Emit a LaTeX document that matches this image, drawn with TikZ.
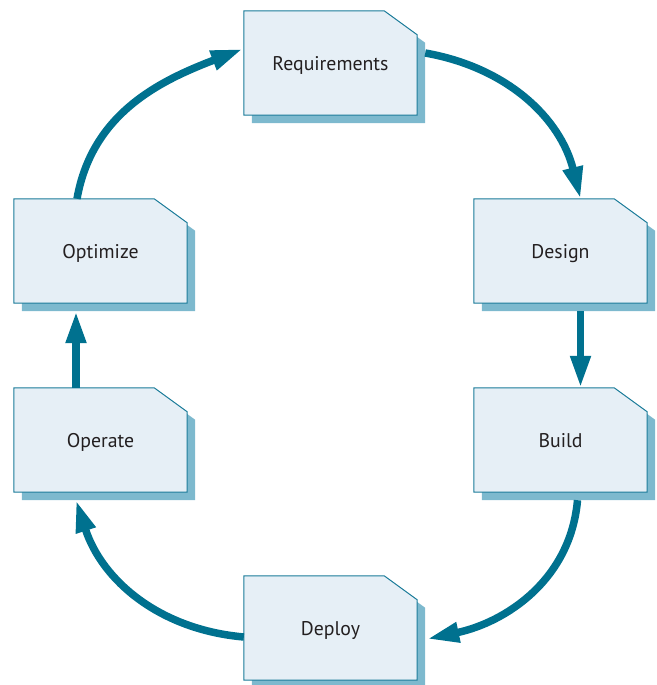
\documentclass[tikz,border=0pt]{standalone}
\usepackage{fontspec}
\setmainfont{PT Sans}
\usetikzlibrary{arrows.meta,backgrounds}
\definecolor{arrowc}{RGB}{0,113,143}
\definecolor{boxfill}{RGB}{230,239,246}
\definecolor{boxline}{RGB}{26,123,153}
\definecolor{shadowc}{RGB}{125,185,206}
\definecolor{textc}{RGB}{35,31,32}
\begin{document}
\begin{tikzpicture}[x=1pt,y=1pt,
  docbox/.style={minimum width=173pt,minimum height=104pt,inner sep=0pt,
    font=\fontsize{19.8}{22}\selectfont,text=textc,text height=16pt,text depth=0pt},
  flow/.style={draw=arrowc,line width=7.5pt,-{Triangle[length=32pt,width=19pt]}}]
\useasboundingbox (0,0) rectangle (656,685);
\node[docbox] (req) at (330.5,622) {Requirements};
\node[docbox] (des) at (560.5,434) {Design};
\node[docbox] (bld) at (560.5,245) {Build};
\node[docbox] (dep) at (330.5,57) {Deploy};
\node[docbox] (opr) at (100.5,245) {Operate};
\node[docbox] (opt) at (100.5,434) {Optimize};
\begin{scope}[on background layer]
\foreach \n in {req,des,bld,dep,opr,opt}{
  \fill[shadowc] ([shift={(8pt,-8pt)}]\n.north west) -- ([shift={(-25pt,-8pt)}]\n.north east)
     -- ([shift={(8pt,-32pt)}]\n.north east) -- ([shift={(8pt,-8pt)}]\n.south east)
     -- ([shift={(8pt,-8pt)}]\n.south west) -- cycle;
  \filldraw[fill=boxfill,draw=boxline,line width=1pt] (\n.north west) -- ([xshift=-33pt]\n.north east)
     -- ([yshift=-24pt]\n.north east) -- (\n.south east) -- (\n.south west) -- cycle;
}
\end{scope}
\draw[flow] ([xshift=8pt,yshift=10pt]req.east) to[out=-10,in=104] ([xshift=20pt]des.north);
\draw[flow] ([xshift=20pt,yshift=-8pt]des.south) -- ([xshift=20pt]bld.north);
\draw[flow] ([xshift=17pt,yshift=-8pt]bld.south) to[out=-95,in=12] ([xshift=10pt,yshift=-11pt]dep.east);
\draw[flow] ([yshift=-9pt]dep.west) to[out=175,in=-72] ([xshift=-24.5pt,yshift=-8pt]opr.south);
\draw[flow] ([xshift=-24.5pt]opr.north) -- ([xshift=-24.5pt,yshift=-8pt]opt.south);
\draw[flow] ([xshift=-23.5pt]opt.north) to[out=80,in=201] ([xshift=-1pt,yshift=14pt]req.west);
\end{tikzpicture}
\end{document}
